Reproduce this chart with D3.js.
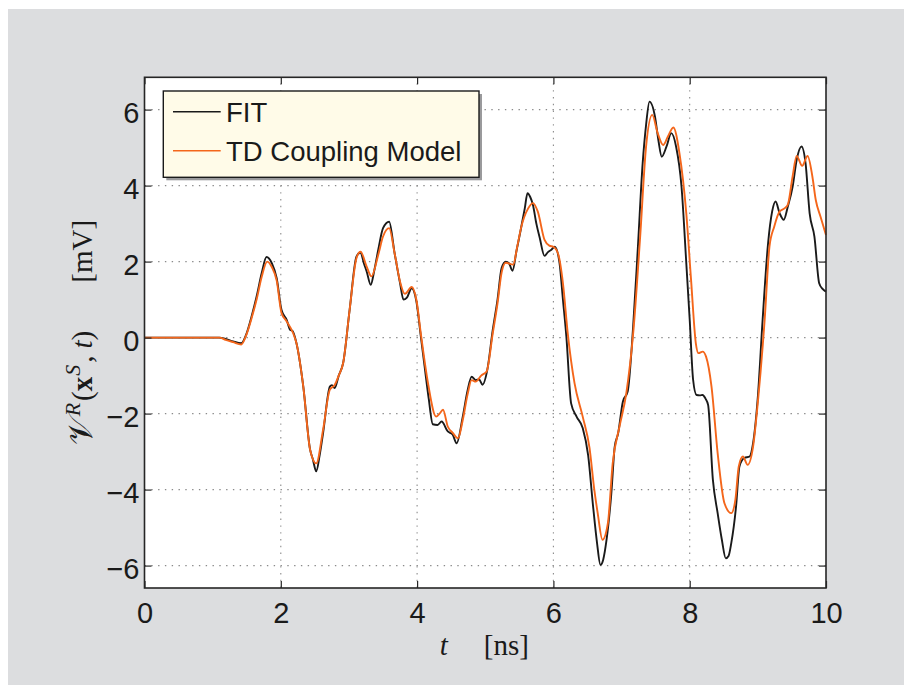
<!DOCTYPE html>
<html lang="en">

<head>
  <meta charset="utf-8">
  <title>FIT vs TD Coupling Model</title>
  <script src="https://d3js.org/d3.v7.min.js"></script>
  <style>
    body { margin: 0; background: #fff; }
    .tick-label { font-family: "Liberation Sans", Arial, sans-serif; font-size: 29px; fill: #1a1a1a; }
    .legend-label { font-family: "Liberation Sans", Arial, sans-serif; font-size: 27.5px; fill: #1a1a1a; }
    .axis-label { font-family: "Liberation Serif", "DejaVu Serif", serif; font-size: 29px; fill: #1a1a1a; }
  </style>
</head>

<body>
  <script>
    // FIT (black) samples, t in ns, value in mV
    var fitT = [0, 1.10, 1.20, 1.30, 1.42, 1.50, 1.57, 1.645, 1.72, 1.79, 1.87, 1.94, 2.01, 2.085, 2.14, 2.17, 2.23, 2.33, 2.43, 2.47, 2.52, 2.57, 2.62, 2.72, 2.75, 2.79, 2.85, 2.915,
      3.01, 3.11, 3.17, 3.22, 3.26, 3.32, 3.37, 3.43, 3.50, 3.59, 3.67, 3.75, 3.80, 3.85, 3.92, 3.99, 4.05, 4.11, 4.17, 4.23, 4.30, 4.36, 4.45, 4.52, 4.58, 4.67, 4.74, 4.80, 4.86, 4.91, 4.96,
      5.03, 5.11, 5.18, 5.24, 5.30, 5.35, 5.40, 5.46, 5.52, 5.58, 5.62, 5.66, 5.70, 5.75, 5.80, 5.87, 5.92, 5.97, 6.02, 6.09, 6.14, 6.19, 6.26, 6.34, 6.43, 6.51, 6.58, 6.64, 6.69, 6.73, 6.78,
      6.85, 6.90, 6.95, 7.02, 7.09, 7.17, 7.24, 7.31, 7.36, 7.41, 7.49, 7.54, 7.59, 7.66, 7.73, 7.80, 7.88, 7.95, 8.00, 8.05, 8.10, 8.15, 8.19, 8.23, 8.27, 8.34, 8.41, 8.47, 8.53, 8.57, 8.61,
      8.68, 8.73, 8.80, 8.88, 8.93, 9.00, 9.07, 9.15, 9.21, 9.26, 9.32, 9.38, 9.44, 9.51, 9.57, 9.64, 9.70, 9.76, 9.83, 9.90, 9.95, 10.0];
    var fitV = [0, 0, -0.04, -0.1, -0.15, 0.12, 0.55, 1.08, 1.7, 2.12, 1.95, 1.56, 0.73, 0.47, 0.2, 0.18, -0.15, -1.29, -2.95, -3.2, -3.52, -3.1, -2.52, -1.29, -1.25, -1.33, -1.0, -0.67,
      0.73, 2.13, 2.24, 1.95, 1.74, 1.39, 1.75, 2.31, 2.88, 3.05, 2.22, 1.43, 1.0, 1.05, 1.30, 0.95, 0.1, -0.76, -1.6, -2.28, -2.3, -2.21, -2.47, -2.55, -2.78, -2.08, -1.4, -1.03, -1.12, -1.1, -1.24,
      -0.85, 0.2, 1.0, 1.83, 2.0, 1.95, 1.76, 2.3, 2.83, 3.4, 3.80, 3.7, 3.49, 3.0, 2.62, 2.15, 2.25, 2.31, 2.39, 1.96, 1.0, 0.03, -1.73, -2.08, -2.38, -3.1, -4.4, -5.4, -5.98, -5.85, -5.32,
      -4.10, -2.87, -2.52, -1.68, -1.42, 0.29, 2.39, 4.59, 5.6, 6.21, 5.82, 5.2, 4.76, 5.03, 5.38, 5.03, 3.97, 1.96, 0.47, -1.11, -1.51, -1.52, -1.51, -1.6, -1.77, -3.74, -4.62, -5.3, -5.81, -5.75, -5.41,
      -4.45, -3.39, -3.17, -3.13, -2.78, -1.55, 0.47, 2.48, 3.32, 3.58, 3.27, 3.10, 3.45, 3.97, 4.68, 5.03, 4.59, 3.27, 2.66, 1.43, 1.28, 1.21];

    // TD Coupling Model (orange) samples
    var tdT = [0, 1.10, 1.19, 1.30, 1.42, 1.50, 1.57, 1.645, 1.72, 1.80, 1.87, 1.94, 2.01, 2.085, 2.18, 2.23, 2.33, 2.43, 2.52, 2.62, 2.72, 2.79, 2.85, 2.915,
      3.01, 3.11, 3.17, 3.26, 3.33, 3.43, 3.50, 3.59, 3.67, 3.75, 3.82, 3.92, 3.99, 4.06, 4.16, 4.28, 4.33, 4.38, 4.45, 4.52, 4.60, 4.67, 4.74, 4.80, 4.86, 4.94,
      5.02, 5.11, 5.18, 5.24, 5.30, 5.41, 5.47, 5.53, 5.63, 5.70, 5.77, 5.87, 5.94, 6.00, 6.07, 6.14, 6.21, 6.31, 6.43, 6.53, 6.60, 6.65, 6.72, 6.80, 6.87, 6.97,
      7.07, 7.17, 7.27, 7.36, 7.45, 7.53, 7.61, 7.68, 7.76, 7.85, 7.95, 8.02, 8.09, 8.13, 8.19, 8.24, 8.32, 8.41, 8.51, 8.61, 8.67, 8.72, 8.78, 8.85, 8.93,
      9.00, 9.10, 9.17, 9.24, 9.32, 9.39, 9.44, 9.51, 9.57, 9.65, 9.73, 9.80, 9.85, 9.92, 10.0];
    var tdV = [0, 0, -0.06, -0.12, -0.18, 0.1, 0.5, 1.0, 1.6, 2.0, 1.85, 1.5, 0.65, 0.43, 0.12, -0.15, -1.29, -2.95, -3.31, -2.43, -1.37, -1.25, -1.0, -0.67,
      0.73, 2.09, 2.26, 1.87, 1.61, 2.18, 2.66, 2.88, 2.22, 1.47, 1.15, 1.33, 0.99, 0.03, -1.2, -2.08, -2.0, -1.9, -2.34, -2.5, -2.65, -2.17, -1.5, -1.12, -1.16, -1.0,
      -0.89, 0.11, 0.9, 1.71, 1.97, 1.92, 2.4, 2.92, 3.40, 3.54, 3.32, 2.57, 2.42, 2.39, 2.2, 1.43, 0.12, -1.2, -2.08, -2.9, -4.0, -4.62, -5.32, -4.88, -3.31, -2.34,
      -1.46, 0.1, 2.57, 5.03, 5.86, 5.38, 5.07, 5.29, 5.53, 4.85, 3.27, 1.52, -0.15, -0.41, -0.37, -0.5, -1.29, -3.04, -4.36, -4.62, -4.27, -3.39, -3.13, -3.35, -2.87,
      -1.7, 0.47, 2.39, 2.92, 3.32, 3.40, 3.5, 4.24, 4.78, 4.52, 4.78, 4.24, 3.62, 3.18, 2.7];

    var xTicks = [0, 2, 4, 6, 8, 10];
    var yTicks = [-6, -4, -2, 0, 2, 4, 6];
    var seriesNames = ['FIT', 'TD Coupling Model'];
    var seriesColors = ['#1a1a1a', '#f4661b'];

    var w = 904, h = 685;
    var box = { left: 144.5, right: 826, top: 77.3, bottom: 588 };

    var svg = d3.select('body').append('svg')
      .attr('width', w)
      .attr('height', h);

    // grey figure background
    svg.append('rect')
      .attr('x', 8).attr('y', 9)
      .attr('width', w - 8).attr('height', h - 9)
      .attr('fill', '#dcdddf');

    var x = d3.scaleLinear().domain([0, 10]).range([box.left, box.right]);
    var y = d3.scaleLinear().domain([-6.59, 6.85]).range([box.bottom, box.top]);

    svg.append('rect')
      .attr('x', box.left).attr('y', box.top)
      .attr('width', box.right - box.left).attr('height', box.bottom - box.top)
      .attr('fill', '#fff');

    // dotted grid
    var grid = svg.append('g').attr('stroke', '#8a8a8a').attr('stroke-width', 1.1).attr('stroke-dasharray', '1.4,5.4');
    grid.selectAll('.gx')
      .data(xTicks.filter(function(d){return d > 0 && d < 10;}))
      .enter().append('line')
      .attr('x1', function(d){return x(d);}).attr('x2', function(d){return x(d);})
      .attr('y1', box.bottom).attr('y2', box.top);
    grid.selectAll('.gy')
      .data(yTicks)
      .enter().append('line')
      .attr('y1', function(d){return y(d);}).attr('y2', function(d){return y(d);})
      .attr('x1', box.left).attr('x2', box.right);

    // curves
    var line = d3.line()
      .x(function(d){return x(d[0]);})
      .y(function(d){return y(d[1]);})
      .curve(d3.curveMonotoneX);
    var fitData = fitT.map(function(t, i){return [t, fitV[i]];});
    var tdData = tdT.map(function(t, i){return [t, tdV[i]];});

    svg.append('path').datum(fitData)
      .attr('d', line)
      .attr('fill', 'none')
      .attr('stroke', seriesColors[0])
      .attr('stroke-width', 1.9)
      .attr('stroke-linejoin', 'round');
    svg.append('path').datum(tdData)
      .attr('d', line)
      .attr('fill', 'none')
      .attr('stroke', seriesColors[1])
      .attr('stroke-width', 1.9)
      .attr('stroke-linejoin', 'round');

    // axes: inward ticks on all four sides
    var tickLen = 7;
    var axB = svg.append('g').attr('transform', 'translate(0,' + box.bottom + ')')
      .call(d3.axisBottom(x).tickValues(xTicks).tickSizeInner(-tickLen).tickSizeOuter(0).tickFormat(d3.format('d')));
    var axT = svg.append('g').attr('transform', 'translate(0,' + box.top + ')')
      .call(d3.axisTop(x).tickValues(xTicks).tickSizeInner(-tickLen).tickSizeOuter(0).tickFormat(''));
    var axL = svg.append('g').attr('transform', 'translate(' + box.left + ',0)')
      .call(d3.axisLeft(y).tickValues(yTicks).tickSizeInner(-tickLen).tickSizeOuter(0).tickFormat(function(d){return d < 0 ? '\u2212' + (-d) : d;}));
    var axR = svg.append('g').attr('transform', 'translate(' + box.right + ',0)')
      .call(d3.axisRight(y).tickValues(yTicks).tickSizeInner(-tickLen).tickSizeOuter(0).tickFormat(''));

    [axB, axT, axL, axR].forEach(function(a) {
      a.select('.domain').remove();
      a.selectAll('.tick line').attr('stroke', '#262626').attr('stroke-width', 1.2);
    });
    axB.selectAll('.tick text')
      .attr('class', 'tick-label')
      .attr('y', 35).attr('dy', null);
    axL.selectAll('.tick text')
      .attr('class', 'tick-label')
      .attr('x', -5).attr('dy', '13px');

    svg.append('rect')
      .attr('x', box.left).attr('y', box.top)
      .attr('width', box.right - box.left).attr('height', box.bottom - box.top)
      .attr('fill', 'none')
      .attr('stroke', '#262626')
      .attr('stroke-width', 1.6);

    // legend
    var lg = { x: 163.3, y: 91, w: 315.7, h: 86.3 };
    svg.append('rect')
      .attr('x', lg.x + 3).attr('y', lg.y + 3)
      .attr('width', lg.w).attr('height', lg.h)
      .attr('fill', '#9a9a9c');
    svg.append('rect')
      .attr('x', lg.x).attr('y', lg.y)
      .attr('width', lg.w).attr('height', lg.h)
      .attr('fill', '#fffbe8')
      .attr('stroke', '#1a1a1a')
      .attr('stroke-width', 1.4);
    var rows = svg.selectAll('.lrow')
      .data(seriesNames)
      .enter().append('g')
      .attr('transform', function(d, i){return 'translate(0,' + (111.7 + i * 39) + ')';});
    rows.append('line')
      .attr('x1', 173).attr('x2', 220.7)
      .attr('stroke', function(d, i){return seriesColors[i];})
      .attr('stroke-width', 1.5);
    rows.append('text')
      .attr('class', 'legend-label')
      .attr('x', 226).attr('y', 10)
      .text(function(d){return d;});

    // axis labels
    var xl = svg.append('text')
      .attr('class', 'axis-label')
      .attr('x', (box.left + box.right) / 2 - 1)
      .attr('y', 655)
      .attr('text-anchor', 'middle');
    xl.append('tspan').attr('font-style', 'italic').text('t');
    xl.append('tspan').attr('dx', 36).text('[ns]');

    var yl = svg.append('text')
      .attr('class', 'axis-label')
      .attr('font-size', '31px')
      .attr('transform', 'translate(92,' + ((box.top + box.bottom) / 2) + ') rotate(-90)')
      .attr('text-anchor', 'middle');
    yl.append('tspan').attr('font-size', '34px').text('\uD835\uDCB1');
    yl.append('tspan').attr('font-style', 'italic').attr('font-size', '22px').attr('dy', -12).attr('dx', 1).text('R');
    yl.append('tspan').attr('dy', 12).attr('dx', 2).text('(');
    yl.append('tspan').attr('font-weight', 'bold').text('x');
    yl.append('tspan').attr('font-style', 'italic').attr('font-size', '22px').attr('dy', -12).attr('dx', 1).text('S');
    yl.append('tspan').attr('dy', 12).attr('dx', 2).text(',');
    yl.append('tspan').attr('dx', 7).attr('font-style', 'italic').text('t');
    yl.append('tspan').text(')');
    yl.append('tspan').attr('dx', 48).text('[mV]');
  </script>
</body>

</html>
